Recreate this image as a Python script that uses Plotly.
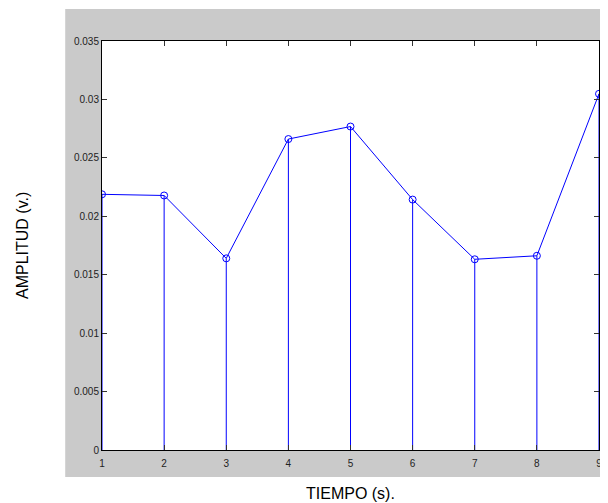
import plotly.graph_objects as go

tiempo = [1, 2, 3, 4, 5, 6, 7, 8, 9]
amplitud = [0.02188, 0.02178, 0.01640, 0.02661, 0.02768, 0.02143, 0.01632, 0.01662, 0.03048]
y_ticks = [0, 0.005, 0.01, 0.015, 0.02, 0.025, 0.03, 0.035]
y_tick_labels = ["0", "0.005", "0.01", "0.015", "0.02", "0.025", "0.03", "0.035"]
x_ticks = [1, 2, 3, 4, 5, 6, 7, 8, 9]

stem_x, stem_y = [], []
for t, a in zip(tiempo, amplitud):
    stem_x += [t, t, None]
    stem_y += [0, a, None]

fig = go.Figure()
fig.add_trace(go.Scatter(x=stem_x, y=stem_y, mode="lines",
                         line=dict(color="#0000FF", width=1), hoverinfo="skip",
                         showlegend=False))
fig.add_trace(go.Scatter(x=tiempo, y=amplitud, mode="lines+markers",
                         line=dict(color="#0000FF", width=1),
                         marker=dict(symbol="circle-open", size=7,
                                     color="#0000FF", line=dict(width=1)),
                         showlegend=False))

# page body has an 8px default margin
OFF = 8
W, H = 608 - OFF, 503 - OFF
# plot area in page pixels: x 102..602, y 41..450
L, T = 102 - OFF, 41 - OFF
R = W - (602 - OFF)
B = H - (450 - OFF)
pw, ph = W - L - R, H - T - B

def px_x(p):
    return (p - OFF - L) / pw

def px_y(p):
    return (H - B - (p - OFF)) / ph

fig.add_shape(type="rect", xref="paper", yref="paper",
              x0=px_x(65), x1=px_x(610), y0=px_y(477), y1=px_y(9),
              fillcolor="#CACACA", line=dict(width=0), layer="below")
fig.add_shape(type="rect", xref="paper", yref="paper",
              x0=0, x1=1, y0=0, y1=1,
              fillcolor="white", line=dict(width=0), layer="below")

axis_common = dict(showgrid=False, zeroline=False, showline=True,
                   linecolor="black", linewidth=1, mirror="ticks",
                   ticks="inside", ticklen=5, tickcolor="#333333",
                   tickfont=dict(family="Arial, Liberation Sans", size=10, color="#222222"))

fig.update_xaxes(range=[1, 9], tickvals=x_ticks, ticklabelstandoff=4, **axis_common)
fig.update_yaxes(range=[0, 0.035], tickvals=y_ticks, ticktext=y_tick_labels, **axis_common)

fig.add_annotation(text="TIEMPO (s).", xref="paper", yref="paper",
                   x=0.5, y=px_y(493), xanchor="center", yanchor="middle",
                   showarrow=False, font=dict(family="Arial, Liberation Sans", size=16, color="black"))
fig.add_annotation(text="AMPLITUD (v.)", xref="paper", yref="paper",
                   x=px_x(22), y=0.5, xanchor="center", yanchor="middle", textangle=-90,
                   showarrow=False, font=dict(family="Arial, Liberation Sans", size=16, color="black"))

fig.update_layout(width=W, height=H, margin=dict(l=L, r=R, t=T, b=B),
                  paper_bgcolor="white", plot_bgcolor="white")

fig.write_html("out.html")
